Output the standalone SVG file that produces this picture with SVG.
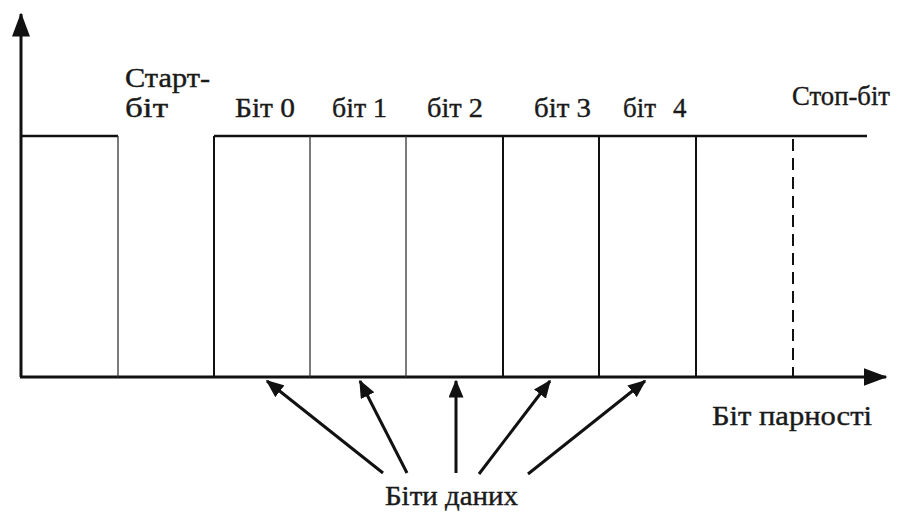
<svg xmlns="http://www.w3.org/2000/svg" width="904" height="512" viewBox="0 0 904 512">
<defs>
<marker id="axisHead" markerWidth="8" markerHeight="6" refX="7.5" refY="3" orient="auto" markerUnits="strokeWidth"><path d="M0,0 L8,3 L0,6 Z" fill="#111"/></marker>
<marker id="dataHead" markerWidth="6" markerHeight="5" refX="5.5" refY="2.5" orient="auto" markerUnits="strokeWidth"><path d="M0,0 L6,2.5 L0,5 Z" fill="#111"/></marker>
<style>
.lbl{font-size:27px;fill:#1a1a1a;stroke:#1a1a1a;stroke-width:0.4}
.axis{stroke:#111;stroke-width:3;fill:none}
.sig{stroke:#111;stroke-width:2.5;fill:none}
.thin{stroke:#333;stroke-width:1.3}
.thick{stroke:#111;stroke-width:2}
.dash{stroke:#111;stroke-width:2;stroke-dasharray:12,7}
.data{stroke:#111;stroke-width:3;fill:none;marker-end:url(#dataHead)}
</style>
</defs>
<rect width="904" height="512" fill="#fff"/>
<g id="axes">
<line class="axis" x1="21" y1="377" x2="21" y2="14" marker-end="url(#axisHead)"/>
<line class="axis" x1="20" y1="377" x2="886" y2="377" marker-end="url(#axisHead)"/>
</g>
<g id="signal">
<polyline class="sig" points="21,136 118,136"/>
<line class="thin" x1="118" y1="136" x2="118" y2="377"/>
<line class="sig" x1="214" y1="136" x2="867" y2="136"/>
<line class="thick" x1="214" y1="136" x2="214" y2="377"/>
<line class="thin" x1="310" y1="136" x2="310" y2="377"/>
<line class="thin" x1="406" y1="136" x2="406" y2="377"/>
<line class="thick" x1="503" y1="136" x2="503" y2="377"/>
<line class="thick" x1="599" y1="136" x2="599" y2="377"/>
<line class="thick" x1="696" y1="136" x2="696" y2="377"/>
<line class="dash" x1="793" y1="139" x2="793" y2="377"/>
</g>
<g id="labels" font-family="'Liberation Serif', 'Times New Roman', serif">
<text class="lbl" x="125" y="87" textLength="85" lengthAdjust="spacingAndGlyphs">Старт-</text>
<text class="lbl" x="125" y="117" textLength="43" lengthAdjust="spacingAndGlyphs">біт</text>
<text class="lbl" x="235" y="117" textLength="60" lengthAdjust="spacingAndGlyphs">Біт 0</text>
<text class="lbl" x="332" y="117" textLength="55" lengthAdjust="spacingAndGlyphs">біт 1</text>
<text class="lbl" x="427" y="117" textLength="56" lengthAdjust="spacingAndGlyphs">біт 2</text>
<text class="lbl" x="534" y="117" textLength="57" lengthAdjust="spacingAndGlyphs">біт 3</text>
<text class="lbl" x="623" y="117">біт <tspan x="673">4</tspan></text>
<text class="lbl" x="792" y="105" textLength="98" lengthAdjust="spacingAndGlyphs">Стоп-біт</text>
<text class="lbl" x="712" y="425" textLength="160" lengthAdjust="spacingAndGlyphs">Біт парності</text>
<text class="lbl" x="385" y="505" textLength="133" lengthAdjust="spacingAndGlyphs">Біти даних</text>
</g>
<g id="connectors">
<line class="data" x1="383" y1="473" x2="267" y2="381"/>
<line class="data" x1="407" y1="473" x2="360" y2="381"/>
<line class="data" x1="456" y1="473" x2="456" y2="381"/>
<line class="data" x1="479" y1="474" x2="550" y2="381"/>
<line class="data" x1="528" y1="474" x2="645" y2="381"/>
</g>
</svg>
